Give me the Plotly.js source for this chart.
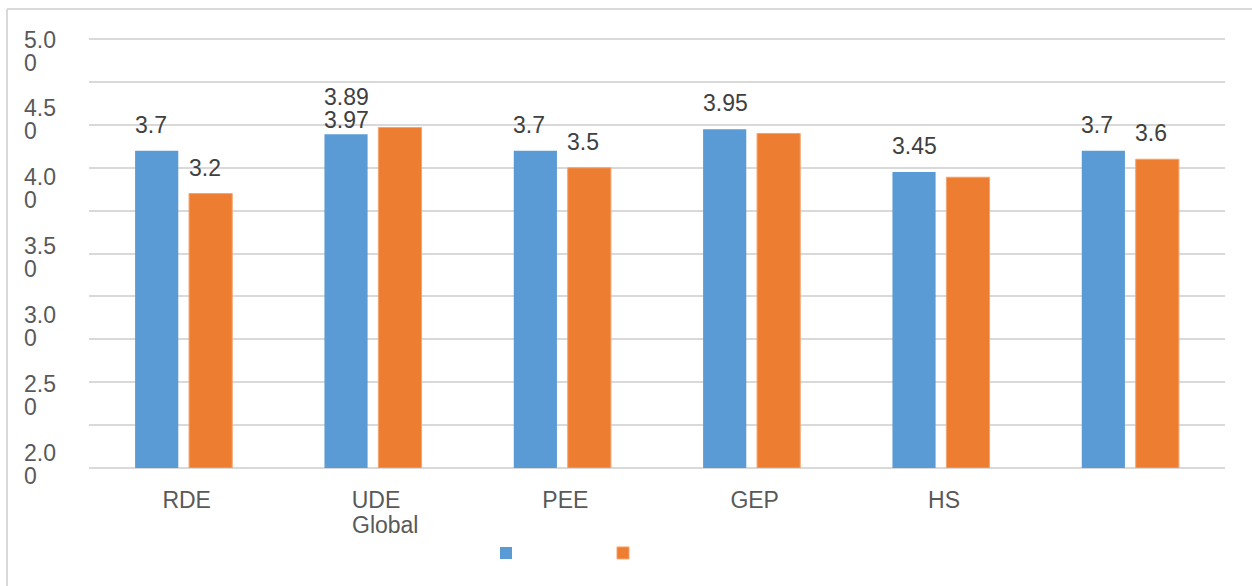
<!DOCTYPE html>
<html>
<head>
<meta charset="utf-8">
<script src="https://cdn.plot.ly/plotly-3.0.1.min.js"></script>
<style>
  html, body { margin: 0; padding: 0; background: #ffffff; }
  #chart { width: 1252px; height: 586px; }
</style>
</head>
<body>
<div id="chart"></div>
<script>
// Category names and the two series of scores
const categories = ['RDE', 'UDE', 'PEE', 'GEP', 'HS', 'Global'];
const blueValues = [3.7, 3.89, 3.7, 3.95, 3.45, 3.7];
const orangeValues = [3.2, 3.97, 3.5, 3.9, 3.39, 3.6];

// Value labels printed above the bars (null = no label)
const blueLabels = ['3.7', '3.89', '3.7', '3.95', '3.45', '3.7'];
const orangeLabels = ['3.2', '3.97', '3.5', null, null, '3.6'];

// Score scale labels on the left
const yTickValues = [2.0, 2.5, 3.0, 3.5, 4.0, 4.5, 5.0];
const yTickLabels = ['2.00', '2.50', '3.00', '3.50', '4.00', '4.50', '5.00'];

const FONT = 'Liberation Sans, Arial, Helvetica, sans-serif';
const BLUE = '#5b9bd5';
const ORANGE = '#ed7d31';
const W = 1252, H = 586;
const M = { l: 89, r: 27, t: 37, b: 118 };
const plotW = W - M.l - M.r;
const plotH = H - M.t - M.b;
const px2x = p => (p - M.l) / plotW;
const px2y = p => (H - M.b - p) / plotH;

const traces = [
  {
    type: 'bar', name: '', x: categories, y: blueValues,
    marker: { color: BLUE }, hoverinfo: 'skip'
  },
  {
    type: 'bar', name: '', x: categories, y: orangeValues,
    marker: { color: ORANGE, line: { color: '#f4a46e', width: 1 } }, hoverinfo: 'skip'
  }
];

const annotations = [];
const labelFont = { family: FONT, size: 23, color: '#404040' };

// Value labels, left-aligned with their bars
categories.forEach((c, i) => {
  if (c === 'UDE') {
    // both UDE labels stack above the blue bar
    annotations.push({ x: c, y: blueValues[i], xref: 'x', yref: 'y', text: orangeLabels[i],
      showarrow: false, xanchor: 'left', yanchor: 'bottom', xshift: -51, yshift: -1, font: labelFont });
    annotations.push({ x: c, y: blueValues[i], xref: 'x', yref: 'y', text: blueLabels[i],
      showarrow: false, xanchor: 'left', yanchor: 'bottom', xshift: -51, yshift: 22, font: labelFont });
    return;
  }
  if (blueLabels[i] !== null) {
    annotations.push({ x: c, y: blueValues[i], xref: 'x', yref: 'y', text: blueLabels[i],
      showarrow: false, xanchor: 'left', yanchor: 'bottom', xshift: -51, yshift: 11, font: labelFont });
  }
  if (orangeLabels[i] !== null) {
    annotations.push({ x: c, y: orangeValues[i], xref: 'x', yref: 'y', text: orangeLabels[i],
      showarrow: false, xanchor: 'left', yanchor: 'bottom', xshift: 3, yshift: 11, font: labelFont });
  }
});

// Left scale labels, wrapped onto two lines
const tickFont = { family: FONT, size: 23, color: '#595959' };
yTickValues.forEach((v, i) => {
  const t = yTickLabels[i];
  const first = t.slice(0, t.length - 1);
  const rest = t.slice(t.length - 1);
  annotations.push({ x: px2x(22), y: v, xref: 'paper', yref: 'y2', text: first,
    showarrow: false, xanchor: 'left', yanchor: 'middle', yshift: 11.5, font: tickFont });
  annotations.push({ x: px2x(22), y: v, xref: 'paper', yref: 'y2', text: rest,
    showarrow: false, xanchor: 'left', yanchor: 'middle', yshift: -11.5, font: tickFont });
});

// Last category name wraps beneath the second one
annotations.push({ x: categories[1], y: 0, xref: 'x', yref: 'paper', text: categories[5],
  showarrow: false, xanchor: 'left', yanchor: 'top', xshift: -23, yshift: -42, font: tickFont });

const border = { color: '#d9d9d9', width: 2 };
const shapes = [
  { type: 'line', xref: 'paper', yref: 'paper', x0: px2x(7), x1: px2x(W + 5), y0: px2y(9), y1: px2y(9), line: border },
  { type: 'line', xref: 'paper', yref: 'paper', x0: px2x(7), x1: px2x(7), y0: px2y(9), y1: px2y(H + 5), line: border }
];

const layout = {
  width: W, height: H,
  margin: { l: M.l, r: M.r, t: M.t, b: M.b, pad: 0 },
  paper_bgcolor: '#ffffff', plot_bgcolor: '#ffffff',
  font: { family: FONT, color: '#595959' },
  barmode: 'group', bargap: 0.43, bargroupgap: 0.2,
  showlegend: true,
  legend: {
    orientation: 'h', x: px2x(486), y: px2y(553), xanchor: 'left', yanchor: 'middle',
    entrywidth: 72, font: { family: FONT, size: 23 }, bgcolor: 'rgba(0,0,0,0)'
  },
  xaxis: {
    type: 'category', range: [-0.5, 5.5],
    tickvals: categories.slice(0, 5), ticktext: categories.slice(0, 5),
    showgrid: false, showline: false, zeroline: false, ticks: '',
    tickfont: tickFont, ticklabelstandoff: 16, ticklabelshift: 3
  },
  yaxis: {
    range: [0, 5.025], dtick: 0.5, tick0: 0,
    showgrid: true, gridcolor: '#d9d9d9', gridwidth: 2,
    zeroline: true, zerolinecolor: '#d9d9d9', zerolinewidth: 2,
    showline: false, showticklabels: false, ticks: ''
  },
  yaxis2: {
    overlaying: 'y', side: 'left', anchor: 'x',
    range: [1.971, 5.102],
    showgrid: false, zeroline: false, showline: false, showticklabels: false, ticks: ''
  },
  annotations: annotations,
  shapes: shapes
};

Plotly.newPlot('chart', traces, layout, { displayModeBar: false, staticPlot: true });
</script>
</body>
</html>
